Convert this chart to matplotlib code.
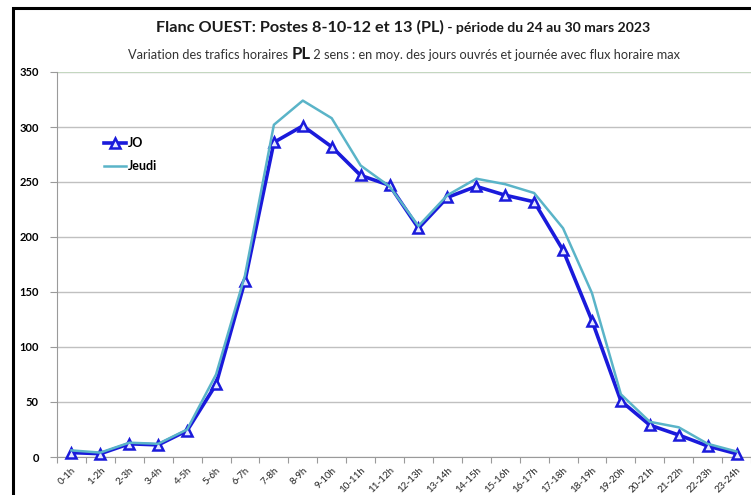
#!/usr/bin/env python3
"""Hourly HGV traffic, Flanc OUEST stations 8-10-12 and 13 (24-30 March 2023)."""

import matplotlib

matplotlib.use("Agg")
import matplotlib.pyplot as plt
from matplotlib.patches import Rectangle

# --- data --------------------------------------------------------------------
hours = [
    "0-1h", "1-2h", "2-3h", "3-4h", "4-5h", "5-6h", "6-7h", "7-8h",
    "8-9h", "9-10h", "10-11h", "11-12h", "12-13h", "13-14h", "14-15h",
    "15-16h", "16-17h", "17-18h", "18-19h", "19-20h", "20-21h", "21-22h",
    "22-23h", "23-24h",
]
jo = [4, 3, 12, 11, 24, 66, 160, 286, 301, 282, 256, 247, 208, 236,
      246, 238, 232, 188, 124, 51, 29, 20, 10, 3]
jeudi = [6, 4, 13, 12, 25, 75, 165, 302, 324, 308, 265, 246, 210, 238,
         253, 248, 240, 208, 149, 57, 32, 27, 12, 5]
y_ticks = [0, 50, 100, 150, 200, 250, 300, 350]

W, H = 751, 495
FONT = "Lato"

plt.rcParams["font.family"] = [FONT, "DejaVu Sans"]

fig = plt.figure(figsize=(W / 100, H / 100), dpi=100)
fig.patch.set_facecolor("white")

# outer chart frame (cropped on the right and bottom in the source image)
fig.patches.append(
    Rectangle((13 / W, -0.2), 1.2, 1.2 - 8 / H, transform=fig.transFigure,
              fill=False, edgecolor="black", linewidth=2.2, zorder=0)
)

left, right = 57 / W, 1.0
bottom, top = 1 - 457 / H, 1 - 72 / H
ax = fig.add_axes([left, bottom, right - left, top - bottom])

x = list(range(len(hours)))
cat_px = 29.35
ax.set_xlim(-0.5, -0.5 + (W - 57) / cat_px)
ax.set_ylim(0, 350)

ax.plot(x, jo, color="#1a1adb", linewidth=2.6, marker="^", markersize=7.5,
        markerfacecolor="#e6e8ff", markeredgecolor="#1a1adb",
        markeredgewidth=1.8, label="JO", zorder=3, clip_on=False)
ax.plot(x, jeudi, color="#5ab4c8", linewidth=1.8, label="Jeudi", zorder=4,
        clip_on=False)

# grid and axes
ax.set_yticks(y_ticks)
ax.yaxis.grid(True, color="#c0c0c0", linewidth=1.0)
ax.set_axisbelow(True)
for side in ("top", "right"):
    ax.spines[side].set_visible(False)
ax.spines["left"].set_color("#9a9a9a")
ax.spines["bottom"].set_color("#9a9a9a")
ax.axhline(350, color="#c6dcc0", linewidth=1.2, zorder=1)

ax.set_xticks([i - 0.5 for i in range(len(hours) + 1)], minor=False)
ax.set_xticklabels([])
ax.set_xticks(x, minor=True)
ax.set_xticklabels(hours, minor=True, rotation=45, ha="right", va="top",
                   rotation_mode="anchor", fontsize=7, color="#222222")
ax.tick_params(axis="x", which="major", length=4, color="#9a9a9a",
               direction="out")
ax.tick_params(axis="x", which="minor", length=0, pad=6)
ax.tick_params(axis="y", length=5, color="#9a9a9a", pad=8, labelsize=8)
for lbl in ax.get_yticklabels():
    lbl.set_fontweight("bold")

leg = ax.legend(loc="upper left", bbox_to_anchor=(98 / W, 1 - 131 / H),
                bbox_transform=fig.transFigure, frameon=False,
                prop={"family": FONT, "weight": "bold", "size": 9},
                handlelength=1.7, handletextpad=0.15, labelspacing=0.9,
                borderpad=0)

# title pieces (mixed sizes as in the original)
t1 = fig.text(156 / W, 1 - 32 / H, "Flanc OUEST: Postes 8-10-12 et 13 (PL)",
              fontsize=11.7, fontweight="bold", color="#1a1a1a",
              ha="left", va="baseline")
t2 = fig.text(0, 0, " - période du 24 au 30 mars 2023", fontsize=10.1,
              fontweight="bold", color="#1a1a1a", ha="left", va="baseline")

s1 = fig.text(128 / W, 1 - 59 / H, "Variation des trafics horaires ",
              fontsize=9.2, color="#333333", ha="left", va="baseline")
s2 = fig.text(0, 0, "PL", fontsize=12, fontweight="bold", color="#1a1a1a",
              ha="left", va="baseline")
s3 = fig.text(0, 0,
              " 2 sens : en moy. des jours ouvrés et journée avec flux horaire max",
              fontsize=9.2, color="#333333", ha="left", va="baseline")

renderer = fig.canvas.get_renderer()


def chain(prev, nxt):
    # place the next piece right after the previous one, same baseline
    bb = prev.get_window_extent(renderer)
    px, py = prev.get_transform().transform(prev.get_position())
    nxt.set_transform(None)
    nxt.set_position((bb.x1, py))


chain(t1, t2)
chain(s1, s2)
chain(s2, s3)

fig.savefig("out.png", dpi=100, facecolor="white")
